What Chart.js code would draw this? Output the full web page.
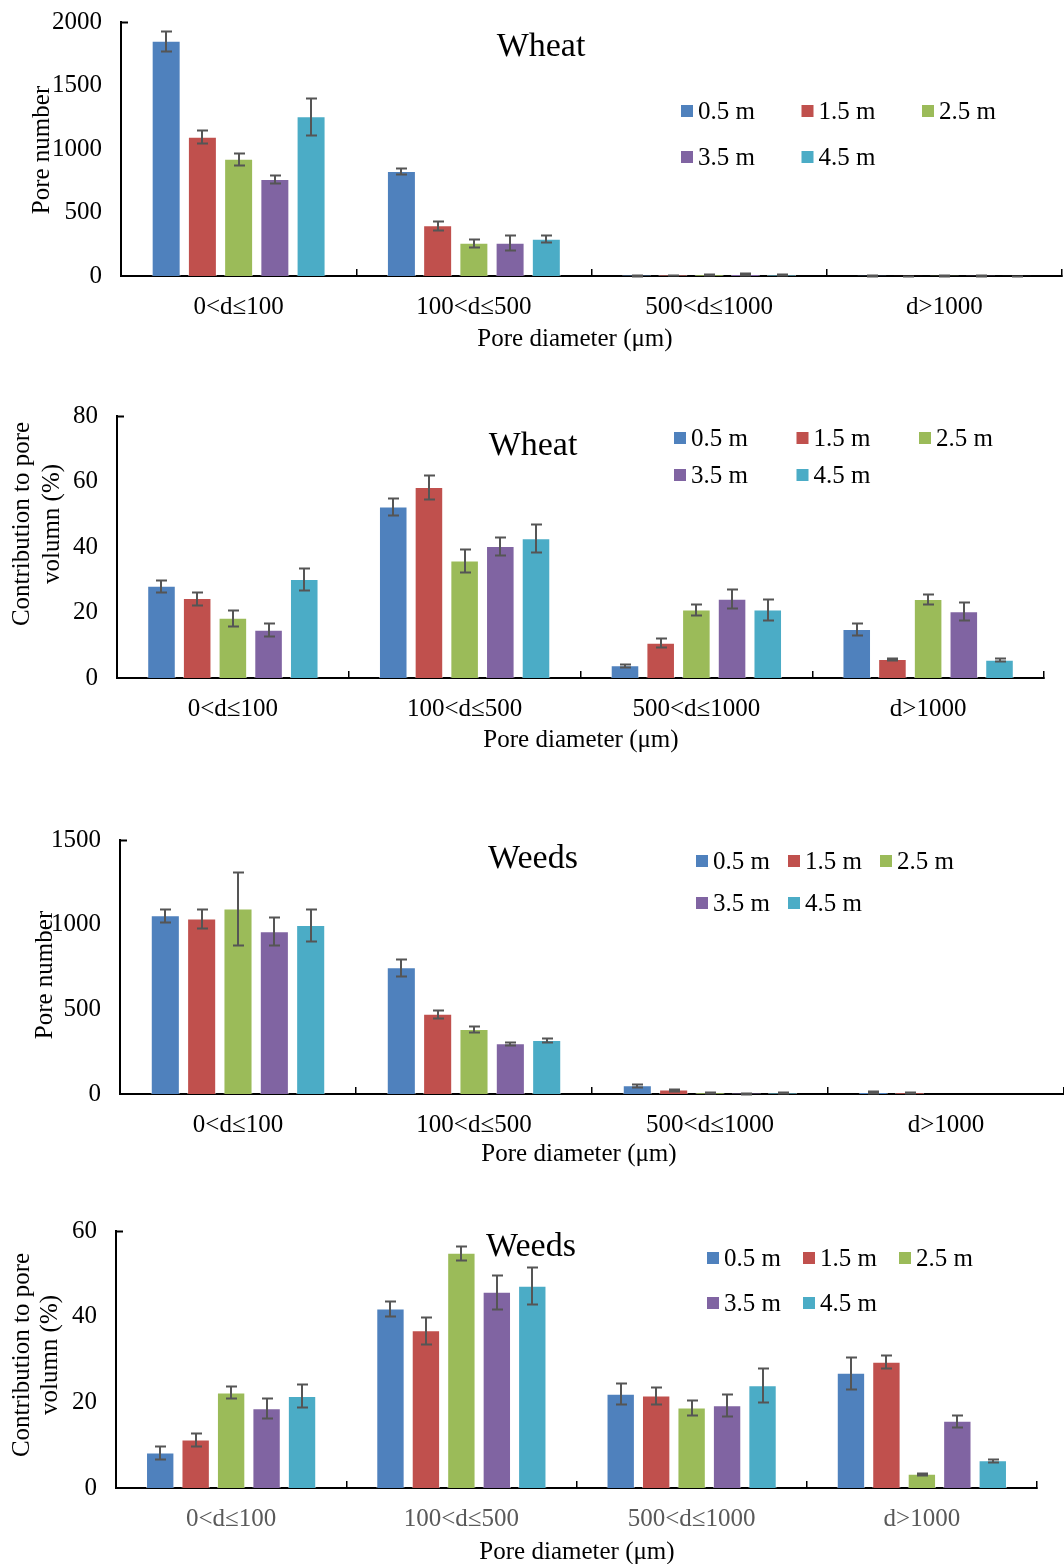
<!DOCTYPE html>
<html lang="en">
<head>
<meta charset="UTF-8" />
<title>Pore number and pore volume by depth</title>
<script src="https://cdn.jsdelivr.net/npm/chart.js"></script>
<style>
  body { margin: 0; background: #fff; }
  canvas.panel { position: absolute; left: 0; }
</style>
</head>
<body>
<canvas id="wheatNumber" class="panel" width="1064" height="360" style="top:0px"></canvas>
<canvas id="wheatVolume" class="panel" width="1064" height="420" style="top:360px"></canvas>
<canvas id="weedsNumber" class="panel" width="1064" height="420" style="top:780px"></canvas>
<canvas id="weedsVolume" class="panel" width="1064" height="364" style="top:1200px"></canvas>

<script>
// pore diameter classes (µm) and sampling depths
const categories = ['0<d≤100', '100<d≤500', '500<d≤1000', 'd>1000'];
const depths = ['0.5 m', '1.5 m', '2.5 m', '3.5 m', '4.5 m'];
const colors = ['#4F81BD', '#C0504D', '#9BBB59', '#8064A2', '#4BACC6'];

// one row per depth, one value per diameter class
const wheatNumber = [
  [1853, 827, 6, 3],
  [1097, 399, 8, 2],
  [924, 262, 10, 3],
  [764, 262, 15, 3],
  [1257, 294, 9, 1]
];
const wheatNumberErr = [
  [80, 21, 3, 2],
  [52, 38, 3, 1],
  [48, 33, 4, 2],
  [30, 57, 5, 2],
  [145, 25, 4, 1]
];

const wheatVolume = [
  [28.2, 52.4, 3.9, 15.0],
  [24.4, 58.3, 10.8, 5.8],
  [18.4, 35.9, 20.9, 24.1],
  [14.7, 40.3, 24.2, 20.4],
  [30.2, 42.7, 20.9, 5.6]
];
const wheatVolumeErr = [
  [1.8, 2.5, 0.45, 1.9],
  [2.0, 3.6, 1.4, 0.3],
  [2.4, 3.4, 1.6, 1.5],
  [2.0, 2.7, 2.9, 2.8],
  [3.4, 4.3, 3.2, 0.5]
];

const weedsNumber = [
  [1055, 748, 52, 12],
  [1037, 474, 26, 9],
  [1096, 384, 8, 0],
  [961, 299, 5, 0],
  [998, 319, 6, 0]
];
const weedsNumberErr = [
  [39, 52, 8, 4],
  [58, 25, 6, 3],
  [215, 17, 4, 0],
  [84, 11, 3, 0],
  [95, 14, 3, 0]
];

const weedsVolume = [
  [8.3, 41.9, 22.0, 26.9],
  [11.3, 36.8, 21.6, 29.5],
  [22.3, 54.9, 18.8, 3.3],
  [18.6, 45.8, 19.3, 15.7],
  [21.5, 47.2, 24.0, 6.5]
];
const weedsVolumeErr = [
  [1.5, 1.7, 2.5, 3.7],
  [1.45, 3.1, 1.9, 1.5],
  [1.4, 1.6, 1.8, 0.3],
  [2.3, 3.9, 2.6, 1.35],
  [2.7, 4.3, 3.9, 0.35]
];

const serif = '"Liberation Serif", "Times New Roman", serif';
Chart.defaults.font.family = serif;
Chart.defaults.font.size = 25;
Chart.defaults.color = '#000';

// vertical error bars with caps, drawn from each dataset's `errors`
const errorBars = {
  id: 'errorBars',
  afterDatasetsDraw(chart) {
    const ctx = chart.ctx;
    const y = chart.scales.y;
    ctx.save();
    ctx.strokeStyle = '#555555';
    ctx.lineWidth = 2;
    chart.data.datasets.forEach((ds, i) => {
      chart.getDatasetMeta(i).data.forEach((bar, j) => {
        const e = ds.errors[j];
        if (!e) return;
        const v = ds.data[j];
        const hi = Math.round(y.getPixelForValue(v + e)) + 0.5;
        const lo = Math.round(y.getPixelForValue(Math.max(v - e, 0))) + 0.5;
        const x = Math.round(bar.x);
        ctx.beginPath();
        ctx.moveTo(x, hi); ctx.lineTo(x, lo);
        ctx.moveTo(x - 5, hi); ctx.lineTo(x + 6, hi);
        ctx.moveTo(x - 5, lo); ctx.lineTo(x + 6, lo);
        ctx.stroke();
      });
    });
    ctx.restore();
  }
};

// panel name, axis titles and the two-row legend
const decor = {
  id: 'decor',
  afterDraw(chart, args, o) {
    const ctx = chart.ctx;
    const area = chart.chartArea;
    ctx.save();
    ctx.fillStyle = '#000';
    ctx.textBaseline = 'middle';

    // short inward tick at the top of the value axis
    ctx.strokeStyle = '#000';
    ctx.lineWidth = 2;
    ctx.beginPath();
    ctx.moveTo(area.left, area.top + 0.5);
    ctx.lineTo(area.left + 7, area.top + 0.5);
    ctx.stroke();

    ctx.textAlign = 'center';
    ctx.font = '34px ' + serif;
    ctx.fillText(o.name, o.nameX, o.nameY);

    ctx.font = '25px ' + serif;
    ctx.fillText('Pore diameter (μm)', o.xTitleX, o.xTitleY);

    o.yTitle.forEach((line, k) => {
      ctx.save();
      ctx.translate(o.yTitleX[k], o.yTitleY);
      ctx.rotate(-Math.PI / 2);
      ctx.fillText(line, 0, 0);
      ctx.restore();
    });

    ctx.textAlign = 'left';
    chart.data.datasets.forEach((ds, i) => {
      const lx = o.legendX + (i % 3) * o.legendCol;
      const ly = o.legendY + Math.floor(i / 3) * o.legendRow;
      ctx.fillStyle = ds.backgroundColor;
      ctx.fillRect(lx, ly - 6, 12, 12);
      ctx.fillStyle = '#000';
      ctx.fillText(ds.label, lx + 17, ly + 1);
    });
    ctx.restore();
  }
};

function makePanel(id, values, errs, box, scale, text) {
  const canvas = document.getElementById(id);
  const datasets = depths.map((d, i) => ({
    label: d,
    data: values[i],
    errors: errs[i],
    backgroundColor: colors[i],
    borderColor: 'rgba(255,255,255,0.5)',
    borderWidth: 1,
    categoryPercentage: 0.77,
    barPercentage: 0.8
  }));
  // fixed plot box: scale sizes are pinned and label overhang is ignored
  const pin = (s, size) => {
    if (s.isHorizontal()) s.height = size; else s.width = size;
    s.paddingTop = 0; s.paddingBottom = 0; s.paddingLeft = 0; s.paddingRight = 0;
  };
  return new Chart(canvas, {
    type: 'bar',
    data: { labels: categories, datasets },
    plugins: [errorBars, decor],
    options: {
      responsive: false,
      animation: false,
      events: [],
      layout: {
        padding: { left: 0, top: box.top, right: canvas.width - box.right, bottom: 0 }
      },
      scales: {
        x: {
          afterFit: s => pin(s, canvas.height - box.bottom),
          grid: {
            display: true,
            drawOnChartArea: false,
            drawTicks: true,
            tickLength: -7,
            color: '#000',
            lineWidth: 1.5
          },
          border: { display: true, color: '#000', width: 2 },
          ticks: { padding: 23, color: text.tickColor || '#000', maxRotation: 0 }
        },
        y: {
          min: 0,
          max: scale.max,
          afterFit: s => pin(s, box.left),
          grid: { display: false, drawTicks: false },
          border: { display: true, color: '#000', width: 2 },
          ticks: { stepSize: scale.step, padding: 19, color: '#000', callback: v => String(v) }
        }
      },
      plugins: {
        legend: { display: false },
        tooltip: { enabled: false },
        decor: text
      }
    }
  });
}

makePanel('wheatNumber', wheatNumber, wheatNumberErr,
  { left: 121, right: 1062, top: 22, bottom: 276 },
  { max: 2000, step: 500 },
  { name: 'Wheat', nameX: 541, nameY: 47,
    xTitleX: 575, xTitleY: 339,
    yTitle: ['Pore number'], yTitleX: [42], yTitleY: 150,
    legendX: 681, legendY: 111, legendCol: 120.5, legendRow: 46 });

makePanel('wheatVolume', wheatVolume, wheatVolumeErr,
  { left: 117, right: 1044, top: 56, bottom: 318 },
  { max: 80, step: 20 },
  { name: 'Wheat', nameX: 533, nameY: 86,
    xTitleX: 581, xTitleY: 380,
    yTitle: ['Contribution to pore', 'volumn (%)'], yTitleX: [22, 52], yTitleY: 164,
    legendX: 674, legendY: 78, legendCol: 122.5, legendRow: 37 });

makePanel('weedsNumber', weedsNumber, weedsNumberErr,
  { left: 120, right: 1064, top: 60, bottom: 314 },
  { max: 1500, step: 500 },
  { name: 'Weeds', nameX: 533, nameY: 79,
    xTitleX: 579, xTitleY: 374,
    yTitle: ['Pore number'], yTitleX: [45], yTitleY: 195,
    legendX: 696, legendY: 81, legendCol: 92, legendRow: 42 });

makePanel('weedsVolume', weedsVolume, weedsVolumeErr,
  { left: 116, right: 1037, top: 31, bottom: 288 },
  { max: 60, step: 20 },
  { name: 'Weeds', nameX: 531, nameY: 47,
    xTitleX: 577, xTitleY: 352,
    yTitle: ['Contribution to pore', 'volumn (%)'], yTitleX: [22, 50], yTitleY: 155,
    legendX: 707, legendY: 58, legendCol: 96, legendRow: 45,
    tickColor: '#595959' });
</script>
</body>
</html>
